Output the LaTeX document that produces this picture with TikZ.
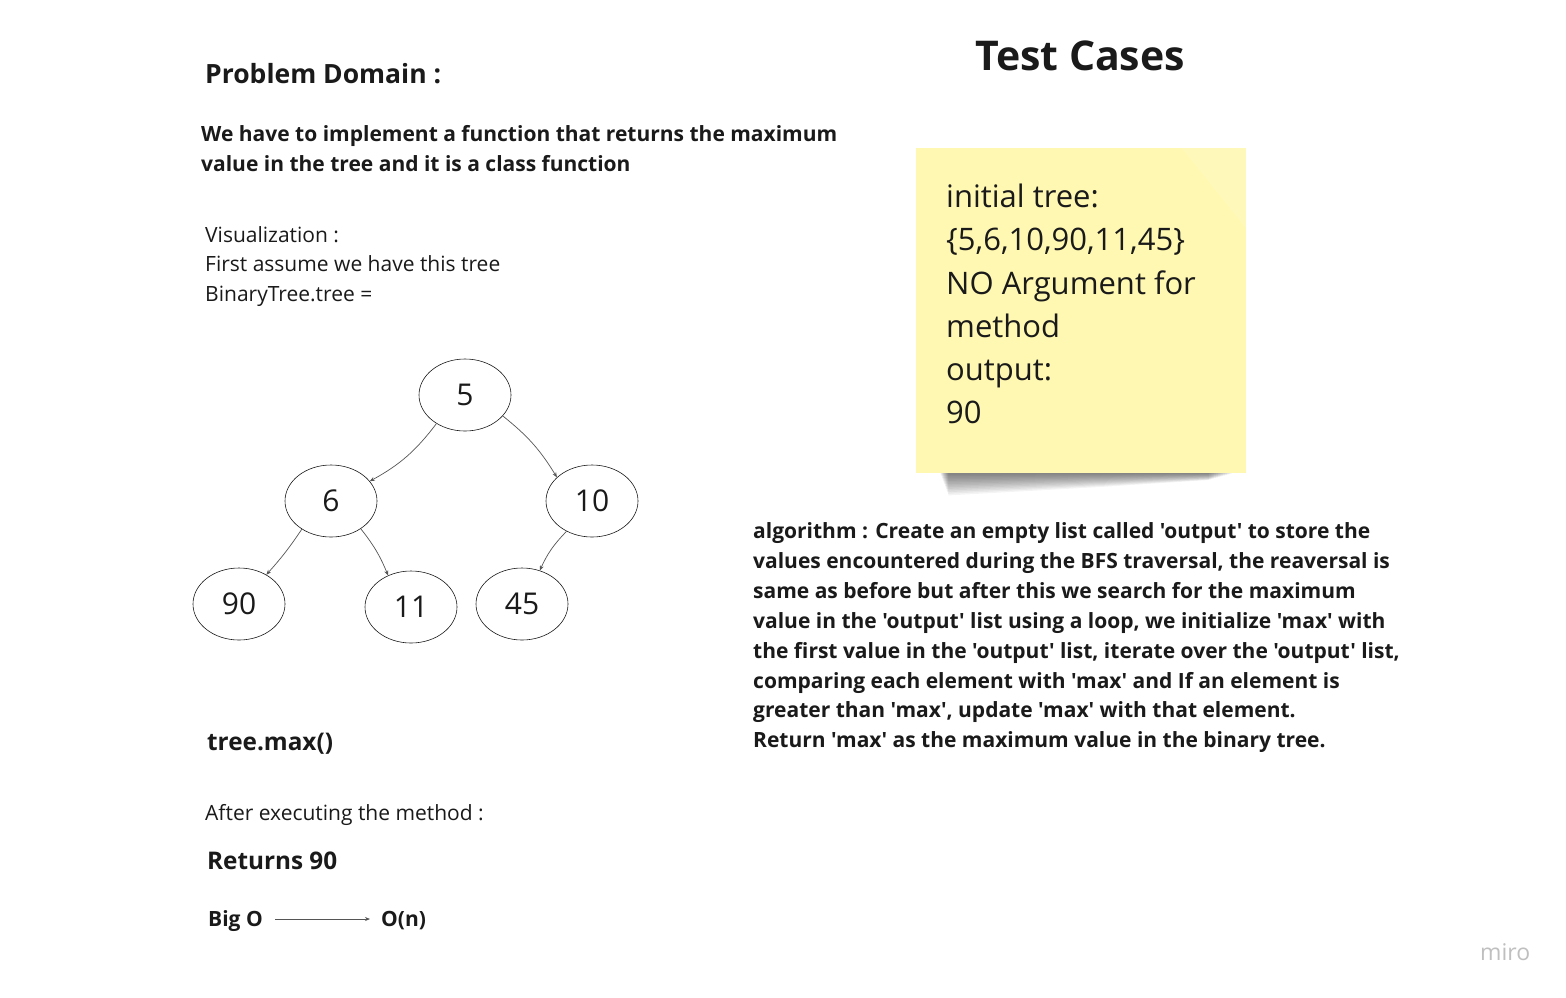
\documentclass[tikz,border=0pt]{standalone}
\usepackage{fontspec}
\setmainfont{Open Sans}[Ligatures=TeXOff]
\usetikzlibrary{arrows.meta,shapes.geometric}
\definecolor{ink}{HTML}{1A1A1A}
\definecolor{sticky}{HTML}{FFF8B2}
\definecolor{edgec}{HTML}{555555}
\tikzset{
  txt/.style={anchor=base west, inner sep=0pt, text=ink, font=\fontsize{21}{25}\selectfont},
  btxt/.style={txt, font=\fontsize{21}{25}\selectfont\bfseries},
  tnode/.style={draw=ink, line width=0.6pt, ellipse, minimum width=92pt, minimum height=72pt, inner sep=0pt, font=\fontsize{30}{36}\selectfont, text=ink},
  tedge/.style={draw=edgec, line width=0.7pt, -{Stealth[length=5pt,width=4pt]}},
}
\begin{document}
\begin{tikzpicture}[x=1pt,y=-1pt]
\useasboundingbox (0,0) rectangle (1566,997);
\fill[white] (0,0) rectangle (1566,997);

% headings
\node[btxt, font=\fontsize{26.5}{30}\selectfont\bfseries] (pd) at (205,83) {Problem Domain :};
\node[btxt, font=\fontsize{41}{48}\selectfont\bfseries] (tc) at (975,70) {Test Cases};

\node[btxt] (d1) at (201,141) {We have to implement a function that returns the maximum};
\node[btxt] (d2) at (201,171) {value in the tree and it is a class function};

\node[txt] (v1) at (205,242) {Visualization :};
\node[txt] (v2) at (205,271) {First assume we have this tree};
\node[txt] (v3) at (205,301) {BinaryTree.tree =};

% tree
\node[tnode] (n5) at (465,395) {5};
\node[tnode] (n6) at (331,501) {6};
\node[tnode] (n10) at (592,501) {10};
\node[tnode] (n90) at (239,604) {90};
\node[tnode] (n11) at (411,607) {11};
\node[tnode] (n45) at (522,604) {45};

\draw[tedge] (n5.-135) to[bend left=12] (n6.27);
\draw[tedge] (n5.-29) to[bend left=10] (n10.146);
\draw[tedge] (n6.-136) to[bend left=4] (n90.47);
\draw[tedge] (n6.-43) to[bend left=8] (n11.126);
\draw[tedge] (n10.-130) to[bend right=10] (n45.62);

% sticky note shadow
\foreach \i in {1,...,14}{
  \fill[black, opacity=0.045] (940+\i*0.6,472) -- (1234-\i*1.8,472) -- (1234-\i*1.8,473+\i*0.5) -- (1100,473+\i*1.0) -- (940+\i*0.6,473+\i*1.6) -- cycle;
}
\node[draw=none, fill=sticky, minimum width=330pt, minimum height=325pt, anchor=north west, inner sep=0pt] (note) at (916,148) {};
\fill[white, opacity=0.13] (1182,148) -- (1246,148) -- (1246,228) -- cycle;

\begin{scope}[every node/.style={txt, font=\fontsize{31}{36}\selectfont}]
\node (s1) at (946,207) {initial tree:};
\node (s2) at (946,250) {\{5,6,10,90,11,45\}};
\node (s3) at (946,294) {NO Argument for};
\node (s4) at (946,337) {method};
\node (s5) at (946,380) {output:};
\node (s6) at (946,423) {90};
\end{scope}

% algorithm
\node[btxt] (a1) at (753,538) {algorithm : Create an empty list called 'output' to store the};
\node[btxt] (a2) at (753,568) {values encountered during the BFS traversal, the reaversal is};
\node[btxt] (a3) at (753,598) {same as before but after this we search for the maximum};
\node[btxt] (a4) at (753,628) {value in the 'output' list using a loop, we initialize 'max' with};
\node[btxt] (a5) at (753,658) {the first value in the 'output' list, iterate over the 'output' list,};
\node[btxt] (a6) at (753,688) {comparing each element with 'max' and If an element is};
\node[btxt] (a7) at (753,717) {greater than 'max', update 'max' with that element.};
\node[btxt] (a8) at (753,747) {Return 'max' as the maximum value in the binary tree.};

% bottom left
\node[btxt, font=\fontsize{24.3}{28}\selectfont\bfseries] (tm) at (207,750) {tree.max()};
\node[txt] (ae) at (205,820) {After executing the method :};
\node[btxt, font=\fontsize{24.3}{28}\selectfont\bfseries] (r90) at (207,869) {Returns 90};
\node[btxt] (bigo) at (208,926) {Big O};
\node[btxt] (on) at (381,926) {O(n)};
\coordinate (arS) at (275,919);
\coordinate (arE) at (370,919);
\draw[draw=edgec, line width=0.7pt, -{Stealth[length=5pt,width=4pt]}] (arS) -- (arE);

\node[txt, text=black!25, font=\fontsize{23}{27}\selectfont] (miro) at (1480,960) {miro};
\end{tikzpicture}
\end{document}
